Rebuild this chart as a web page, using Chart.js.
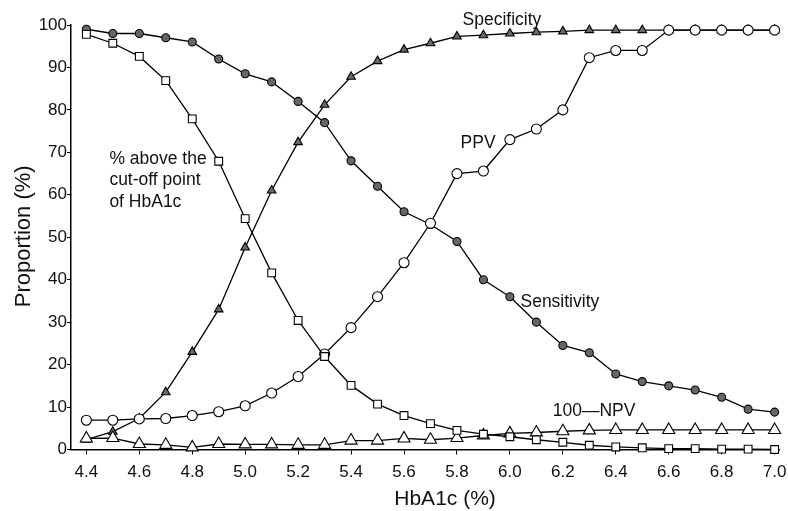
<!DOCTYPE html>
<html>
<head>
<meta charset="utf-8">
<script src="https://cdn.jsdelivr.net/npm/chart.js@4"></script>
<style>
  html, body { margin: 0; padding: 0; background: #fff; }
  #wrap { width: 788px; height: 511px; }
</style>
</head>
<body>
<div id="wrap"><canvas id="chart" width="788" height="511"></canvas></div>
<script>
// HbA1c cut-off points
const hba1c = [4.4, 4.5, 4.6, 4.7, 4.8, 4.9, 5.0, 5.1, 5.2, 5.3, 5.4, 5.5, 5.6,
               5.7, 5.8, 5.9, 6.0, 6.1, 6.2, 6.3, 6.4, 6.5, 6.6, 6.7, 6.8, 6.9, 7.0];

// Values (%)
const sensitivity = [99, 98, 98, 97, 96, 92, 88.5, 86.6, 82, 77, 68, 62, 56,
                     53, 49, 40, 36, 30, 24.5, 22.8, 17.8, 16, 15, 14, 12.3, 9.5, 8.8];
const specificity = [2.3, 4.2, 7.3, 13.5, 23, 33, 47.6, 61, 72.4, 81.2, 87.8, 91.5, 94.2,
                     95.7, 97.3, 97.6, 98, 98.3, 98.5, 98.8, 98.8, 98.8, 98.8, 98.8, 98.8, 98.8, 98.8];
const ppv = [6.9, 6.9, 7.2, 7.3, 8, 8.9, 10.3, 13.3, 17.2, 22.5, 28.7, 36, 44,
             53.3, 65, 65.6, 73, 75.5, 80, 92.3, 94, 94, 98.8, 98.8, 98.8, 98.8, 98.8];
const aboveCutoff = [97.8, 95.7, 92.6, 86.9, 77.9, 67.9, 54.4, 41.6, 30.4, 21.9, 15.1, 10.7, 8,
                     6.1, 4.5, 3.6, 3.0, 2.3, 1.7, 1.0, 0.6, 0.4, 0.2, 0.2, 0.1, 0.1, 0];
const npv100 = [2.6, 2.7, 1.3, 1.1, 0.5, 1.3, 1.2, 1.2, 1.1, 1.1, 2.1, 2.1, 2.6,
                2.3, 2.7, 3.3, 3.8, 4.0, 4.3, 4.5, 4.6, 4.6, 4.6, 4.6, 4.6, 4.6, 4.6];

const xTicks = [4.4, 4.6, 4.8, 5.0, 5.2, 5.4, 5.6, 5.8, 6.0, 6.2, 6.4, 6.6, 6.8, 7.0];
const yTicks = [0, 10, 20, 30, 40, 50, 60, 70, 80, 90, 100];

const xTitle = 'HbA1c (%)';
const yTitle = 'Proportion (%)';

// text labels placed at data coordinates
const labels = [
  { text: ['Specificity'], x: 5.97, y: 101.2, align: 'center' },
  { text: ['PPV'], x: 5.88, y: 72.1, align: 'center' },
  { text: ['% above the', 'cut-off point', 'of HbA1c'], x: 4.487, y: 68.5, align: 'left' },
  { text: ['Sensitivity'], x: 6.04, y: 34.7, align: 'left' },
  { text: ['100\u2014NPV'], x: 6.162, y: 9.0, align: 'left' }
];

const FONT = '"Liberation Sans", Arial, sans-serif';

function series(values, style) {
  return Object.assign({
    data: values.map((v, i) => ({ x: hba1c[i], y: v })),
    borderColor: '#000',
    borderWidth: 1.3,
    pointBorderColor: '#000',
    pointBorderWidth: 1.1,
    tension: 0,
    fill: false
  }, style);
}

// in-plot labels and the two axis titles
const textLabels = {
  id: 'textLabels',
  afterDatasetsDraw(chart) {
    const { ctx, scales, chartArea } = chart;
    ctx.save();
    ctx.fillStyle = '#111';
    ctx.textBaseline = 'middle';
    ctx.font = '17.5px ' + FONT;
    labels.forEach(l => {
      ctx.textAlign = l.align;
      const px = scales.x.getPixelForValue(l.x);
      const py = scales.y.getPixelForValue(l.y);
      l.text.forEach((t, i) => ctx.fillText(t, px, py + i * 21.5));
    });

    ctx.font = '21px ' + FONT;
    ctx.textAlign = 'center';
    ctx.fillText(xTitle, scales.x.getPixelForValue(5.755), chartArea.bottom + 50);

    ctx.translate(24, (chartArea.top + chartArea.bottom) / 2 - 1);
    ctx.rotate(-Math.PI / 2);
    ctx.font = '22px ' + FONT;
    ctx.fillText(yTitle, 0, 0);
    ctx.restore();
  }
};

new Chart(document.getElementById('chart'), {
  type: 'line',
  data: {
    datasets: [
      series(aboveCutoff, { label: '% above the cut-off point of HbA1c', pointStyle: 'rect', pointRadius: 5.5, pointBackgroundColor: '#fff' }),
      series(npv100, { label: '100-NPV', pointStyle: 'triangle', pointRadius: 7, pointBackgroundColor: '#fff' }),
      series(ppv, { label: 'PPV', pointStyle: 'circle', pointRadius: 5, pointBackgroundColor: '#fff' }),
      series(specificity, { label: 'Specificity', pointStyle: 'triangle', pointRadius: 5, pointBackgroundColor: '#6a6a6a' }),
      series(sensitivity, { label: 'Sensitivity', pointStyle: 'circle', pointRadius: 4, pointBackgroundColor: '#666' })
    ]
  },
  options: {
    responsive: false,
    animation: false,
    clip: false,
    layout: { padding: { top: 25, right: 5, left: 0, bottom: 0 } },
    plugins: {
      legend: { display: false },
      tooltip: { enabled: false }
    },
    scales: {
      x: {
        type: 'linear',
        min: 4.342,
        max: 7.02,
        afterBuildTicks: scale => { scale.ticks = xTicks.map(v => ({ value: v })); },
        afterFit: scale => {
          scale.height = 61.5;
          scale.paddingLeft = 0;
          scale.paddingRight = 0;
        },
        ticks: {
          color: '#111',
          font: { family: FONT, size: 17 },
          padding: 8,
          maxRotation: 0,
          callback: v => v.toFixed(1)
        },
        grid: { drawOnChartArea: false, color: '#000', tickLength: 5, tickWidth: 1 },
        border: { color: '#000', width: 1.5 }
      },
      y: {
        min: 0,
        max: 100,
        afterBuildTicks: scale => { scale.ticks = yTicks.map(v => ({ value: v })); },
        afterFit: scale => { scale.width = 71; },
        ticks: {
          color: '#111',
          font: { family: FONT, size: 17 },
          padding: 0
        },
        grid: { drawOnChartArea: false, color: '#000', tickLength: 4, tickWidth: 1 },
        border: { color: '#000', width: 1.5 }
      }
    }
  },
  plugins: [textLabels]
});
</script>
</body>
</html>
